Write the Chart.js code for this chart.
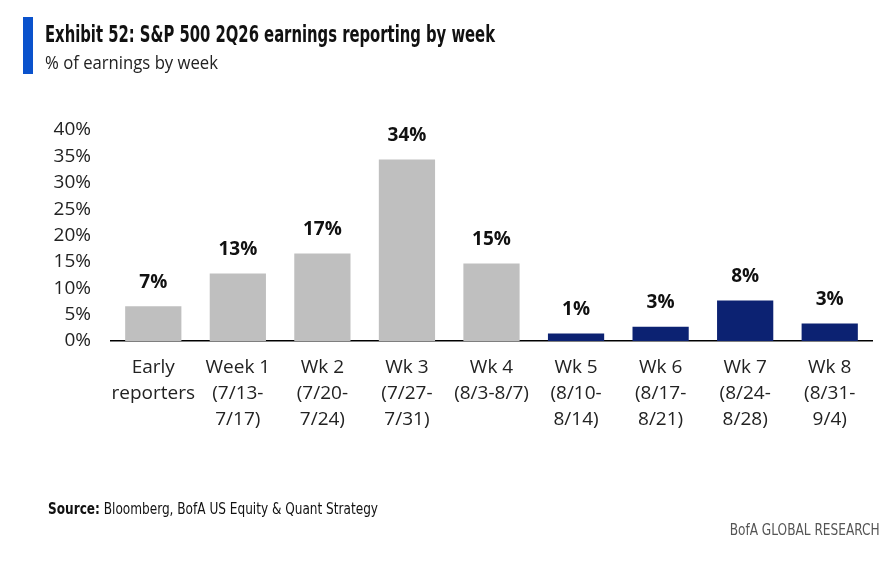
<!DOCTYPE html>
<html>
<head>
<meta charset="utf-8">
<script src="https://cdn.jsdelivr.net/npm/chart.js@4"></script>
<style>
  html, body { margin:0; padding:0; background:#fff; }
  #wrap { position:relative; width:888px; height:564px; overflow:hidden; }
  #chart { position:absolute; left:0; top:0; }
  .bar { position:absolute; left:23px; top:17px; width:10px; height:57px; background:#0A52CC; }
  .title { position:absolute; left:45px; top:21px; font-family:"Liberation Sans Narrow","DejaVu Sans Condensed","Open Sans",sans-serif; font-weight:bold; font-size:23px; color:#111; white-space:nowrap; transform-origin:left top; }
  .sub { position:absolute; left:45px; top:49px; font-family:"Open Sans",sans-serif; font-size:19px; color:#222; white-space:nowrap; transform-origin:left top; }
  .src { position:absolute; left:48px; top:499px; font-family:"Liberation Sans Narrow","DejaVu Sans Condensed","Open Sans",sans-serif; font-size:16px; color:#111; white-space:nowrap; transform-origin:left top; }
  .brand { position:absolute; right:8px; top:520px; font-family:"Liberation Sans Narrow","DejaVu Sans Condensed","Open Sans",sans-serif; font-size:16px; color:#555; white-space:nowrap; transform-origin:right top; }
</style>
</head>
<body>
<div id="wrap">
  <canvas id="chart" width="888" height="564"></canvas>
  <div class="bar"></div>
  <div class="title" id="title">Exhibit 52: S&amp;P 500 2Q26 earnings reporting by week</div>
  <div class="sub" id="sub">% of earnings by week</div>
  <div class="src" id="src"><b>Source:</b> Bloomberg, BofA US Equity &amp; Quant Strategy</div>
  <div class="brand" id="brand">BofA GLOBAL RESEARCH</div>
</div>
<script>
const categories = [
  ["Early","reporters"],
  ["Week 1","(7/13-","7/17)"],
  ["Wk 2","(7/20-","7/24)"],
  ["Wk 3","(7/27-","7/31)"],
  ["Wk 4","(8/3-8/7)"],
  ["Wk 5","(8/10-","8/14)"],
  ["Wk 6","(8/17-","8/21)"],
  ["Wk 7","(8/24-","8/28)"],
  ["Wk 8","(8/31-","9/4)"]
];
const values = [6.6, 12.8, 16.6, 34.4, 14.7, 1.4, 2.7, 7.7, 3.3];
const reportedFlags = [true, true, true, true, true, false, false, false, false];
const yTicks = [0, 5, 10, 15, 20, 25, 30, 35, 40];

const GRAY = "#BFBFBF", NAVY = "#0C2272";

const labelPlugin = {
  id: "valueLabels",
  afterDatasetsDraw(chart) {
    const ctx = chart.ctx;
    const meta = chart.getDatasetMeta(0);
    ctx.save();
    ctx.font = "bold 19px 'Open Sans', sans-serif";
    ctx.fillStyle = "#111";
    ctx.textAlign = "center";
    ctx.textBaseline = "middle";
    meta.data.forEach((bar, i) => {
      ctx.fillText(Math.round(values[i]) + "%", bar.x, bar.y - 24);
    });
    ctx.restore();
  }
};

new Chart(document.getElementById("chart"), {
  type: "bar",
  data: {
    labels: categories,
    datasets: [{
      data: values,
      backgroundColor: reportedFlags.map(f => f ? GRAY : NAVY),
      barPercentage: 0.665,
      categoryPercentage: 1.0
    }]
  },
  options: {
    responsive: false,
    animation: false,
    devicePixelRatio: 1,
    layout: { padding: { top: 130, right: 16, bottom: 123, left: 0 } },
    plugins: { legend: { display: false }, tooltip: { enabled: false } },
    scales: {
      x: {
        grid: { display: false, drawTicks: false },
        border: { display: true, color: "#000", width: 1.5 },
        ticks: {
          color: "#222",
          font: { family: "'Open Sans', sans-serif", size: 19, lineHeight: 1.37 },
          padding: 14,
          maxRotation: 0,
          autoSkip: false
        },
        afterFit(scale) { scale.height = 100; }
      },
      y: {
        min: 0, max: 40,
        afterBuildTicks(scale) { scale.ticks = yTicks.map(v => ({ value: v })); },
        grid: { display: false, drawTicks: false },
        border: { display: false },
        ticks: {
          color: "#222",
          font: { family: "'Open Sans', sans-serif", size: 19 },
          padding: 20,
          callback: v => v + "%"
        },
        afterFit(scale) { scale.width = 111; }
      }
    }
  },
  plugins: [labelPlugin]
});

function fitWidth(id, w) {
  const el = document.getElementById(id);
  const cur = el.getBoundingClientRect().width;
  if (cur > 0) el.style.transform = "scaleX(" + (w / cur) + ")";
}
fitWidth("title", 450);
fitWidth("sub", 173);
fitWidth("src", 330);
fitWidth("brand", 150);
</script>
</body>
</html>
